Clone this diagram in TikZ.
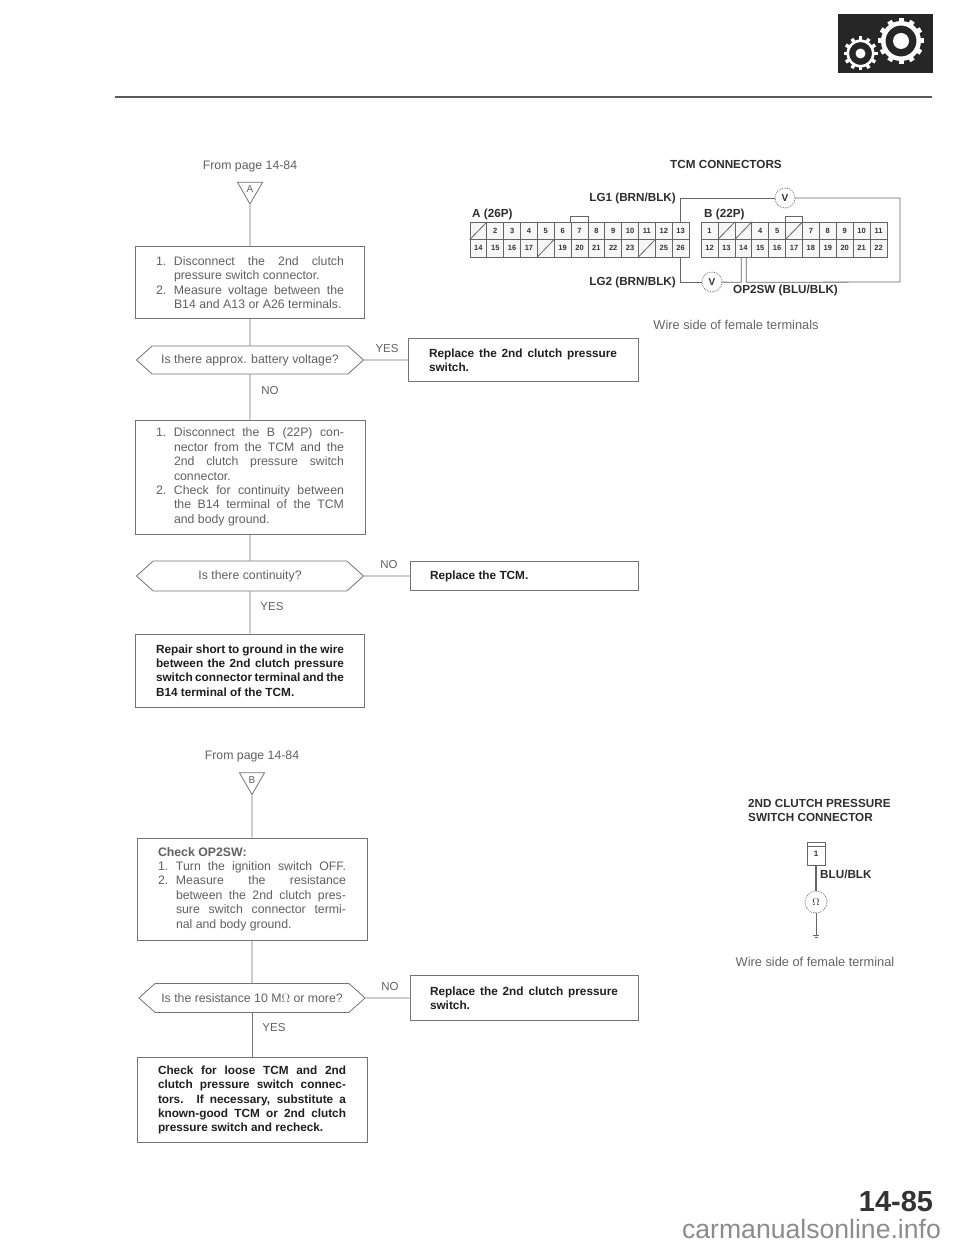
\documentclass[tikz,border=0pt]{standalone}
\usepackage{fontspec}
\setmainfont{Liberation Sans}
\usetikzlibrary{positioning,calc,shapes.geometric,shapes.symbols}
\newcommand{\numline}[2]{\makebox[18pt][l]{#1}\makebox[170pt][s]{#2}}
\newcommand{\fullline}[1]{\makebox[188pt][l]{\hspace*{18pt}#1}}
\newcommand{\hangline}[1]{\hspace*{18pt}\makebox[170pt][s]{#1}}
\newcommand{\boldline}[1]{\makebox[188pt][s]{#1}}
\tikzset{
  flowline/.style={draw=black!55, line width=0.8pt},
  stepbox/.style={draw=black!55, line width=1pt, fill=white, inner sep=0pt, text=black!62, align=left,
    font=\fontsize{12.3}{14.4}\selectfont},
  fixbox/.style={stepbox, text=black!88, font=\fontsize{11.8}{14.4}\selectfont\bfseries},
  askbox/.style={shape=signal, signal to=east and west, signal pointer angle=84, draw=black!55, line width=0.8pt,
    fill=white, inner sep=0pt, text=black!62, font=\fontsize{12.3}{14}\selectfont},
  frompage/.style={text=black!62, font=\fontsize{12.3}{14}\selectfont},
  tagtri/.style={regular polygon, regular polygon sides=3, shape border rotate=180, draw=black!55, line width=0.8pt,
    inner sep=0pt, minimum size=29pt, text=black!62, font=\fontsize{10}{10}\selectfont},
  branchtag/.style={text=black!62, font=\fontsize{11.5}{13}\selectfont},
  pincell/.style={draw=black!60, line width=0.7pt, fill=black!3, minimum width=16.9pt, minimum height=17.5pt, inner sep=0pt,
    text=black!80, font=\fontsize{7.5}{8}\selectfont\bfseries},
  wirelabel/.style={inner sep=0pt, text=black!82, font=\fontsize{11.7}{14.5}\selectfont\bfseries},
  wireline/.style={draw=black!60, line width=0.8pt},
  meter/.style={circle, draw=black!55, densely dotted, line width=0.8pt, fill=white, minimum size=20pt, inner sep=0pt,
    text=black!80, font=\fontsize{10}{11}\selectfont\bfseries},
  plainnote/.style={text=black!60, font=\fontsize{12.8}{14}\selectfont},
}
\begin{document}
\begin{tikzpicture}[x=1pt,y=-1pt]
  \useasboundingbox (0,0) rectangle (960,1246);
  \fill[white] (0,0) rectangle (960,1246);

  % header
  \draw[black!65, line width=1.8pt] (115,97) -- (932,97);
  \fill[black!85] (838,14) rectangle (933,73);
  \foreach \cx/\cy/\ro/\ri/\rd/\tw in {901/41/20/15.5/8/5, 860.5/53.5/14/11.5/5/3.5} {
    \fill[white, even odd rule] (\cx,\cy) circle (\ro) (\cx,\cy) circle (\ri);
    \fill[white] (\cx,\cy) circle (\rd);
    \foreach \a in {1,...,12}
      \fill[white, rotate around={\a*30:(\cx,\cy)}] (\cx-\tw/2,\cy-\ro-3) rectangle (\cx+\tw/2,\cy-\ro+1);
  }

  % first flow
  \node[frompage] (fromA) at (250,166) {From page 14-84};
  \node[tagtri] (triA) at (250,189.5) {A};
  \node[stepbox, minimum width=229pt, minimum height=71pt] (box1) at (250,282.5) {%
    \numline{1.}{Disconnect the 2nd clutch}\\
    \fullline{pressure switch connector.}\\
    \numline{2.}{Measure voltage between the}\\
    \fullline{B14 and A13 or A26 terminals.}};
  \node[askbox, minimum width=227pt, minimum height=28pt] (ask1) at (250,360) {Is there approx. battery voltage?};
  \node[fixbox, minimum width=230pt, minimum height=43pt] (fix1) at (523,360) {%
    \boldline{Replace the 2nd clutch pressure}\\
    \makebox[188pt][l]{switch.}};
  \node[stepbox, minimum width=230pt, minimum height=114pt] (box2) at (250,477) {%
    \numline{1.}{Disconnect the B (22P) con-}\\
    \hangline{nector from the TCM and the}\\
    \hangline{2nd clutch pressure switch}\\
    \fullline{connector.}\\
    \numline{2.}{Check for continuity between}\\
    \hangline{the B14 terminal of the TCM}\\
    \fullline{and body ground.}};
  \node[askbox, minimum width=227pt, minimum height=30pt] (ask2) at (250,576) {Is there continuity?};
  \node[fixbox, minimum width=228pt, minimum height=29pt] (fix2) at (524,576) {%
    \makebox[188pt][l]{Replace the TCM.}};
  \node[fixbox, minimum width=229pt, minimum height=73pt] (box3) at (250,670.5) {%
    \boldline{Repair short to ground in the wire}\\
    \boldline{between the 2nd clutch pressure}\\
    \boldline{switch connector terminal and the}\\
    \makebox[188pt][l]{B14 terminal of the TCM.}};
  \draw[flowline] (triA) -- (box1);
  \draw[flowline] (box1) -- (ask1);
  \draw[flowline] (ask1) -- (box2);
  \draw[flowline] (box2) -- (ask2);
  \draw[flowline] (ask2) -- (box3);
  \draw[flowline] (ask1) -- (fix1);
  \draw[flowline] (ask2) -- (fix2);
  \node[branchtag] (yes1) at (387,349) {YES};
  \node[branchtag] (no1) at (270,391) {NO};
  \node[branchtag] (no2) at (389,565) {NO};
  \node[branchtag] (yes2) at (272,607) {YES};

  % second flow
  \node[frompage] (fromB) at (252,756) {From page 14-84};
  \node[tagtri] (triB) at (252,780) {B};
  \node[stepbox, minimum width=230pt, minimum height=102pt] (box4) at (252,889) {%
    \makebox[188pt][l]{\bfseries Check OP2SW:}\\
    \numline{1.}{Turn the ignition switch OFF.}\\
    \numline{2.}{Measure the resistance}\\
    \hangline{between the 2nd clutch pres-}\\
    \hangline{sure switch connector termi-}\\
    \fullline{nal and body ground.}};
  \node[askbox, minimum width=226pt, minimum height=29pt] (ask3) at (252,998) {Is the resistance 10 M$\Omega$ or more?};
  \node[fixbox, minimum width=228pt, minimum height=45pt] (fix3) at (524,998) {%
    \boldline{Replace the 2nd clutch pressure}\\
    \makebox[188pt][l]{switch.}};
  \node[fixbox, minimum width=230pt, minimum height=85pt] (box5) at (252,1100) {%
    \boldline{Check for loose TCM and 2nd}\\
    \boldline{clutch pressure switch connec-}\\
    \boldline{tors. If necessary, substitute a}\\
    \boldline{known-good TCM or 2nd clutch}\\
    \makebox[188pt][l]{pressure switch and recheck.}};
  \draw[flowline] (triB) -- (box4);
  \draw[flowline] (box4) -- (ask3);
  \draw[flowline] (ask3) -- (box5);
  \draw[flowline] (ask3) -- (fix3);
  \node[branchtag] (no3) at (390,987) {NO};
  \node[branchtag] (yes3) at (274,1028) {YES};

  % TCM connectors
  \node[wirelabel] (tcmtitle) at (726,164) {TCM CONNECTORS};
  \node[wirelabel, anchor=west] (labA) at (472,214) {A (26P)};
  \node[wirelabel, anchor=west] (labB) at (704,214) {B (22P)};
  \foreach \t [count=\i from 1] in {{},2,3,4,5,6,7,8,9,10,11,12,13,14,15,16,17,{},19,20,21,22,23,{},25,26} {
    \pgfmathtruncatemacro\c{mod(\i-1,13)}
    \pgfmathtruncatemacro\r{div(\i-1,13)}
    \node[pincell, minimum width=16.9pt] (a\i) at (478.4+16.85*\c,230.7+17.5*\r) {\t};
  }
  \foreach \t [count=\i from 1] in {1,{},{},4,5,{},7,8,9,10,11,12,13,14,15,16,17,18,19,20,21,22} {
    \pgfmathtruncatemacro\c{mod(\i-1,11)}
    \pgfmathtruncatemacro\r{div(\i-1,11)}
    \node[pincell] (b\i) at (709.5+16.9*\c,230.7+17.5*\r) {\t};
  }
  \foreach \p in {a1,a18,a24,b2,b3,b6}
    \draw[wireline] (\p.south west) -- (\p.north east);
  \draw[wireline] (a7.north west) -- ++(0,-5) -| (a7.north east);
  \draw[wireline] (b6.north west) -- ++(0,-5) -| (b6.north east);

  \node[wirelabel, anchor=east] (lg1) at (676,198) {LG1 (BRN/BLK)};
  \node[wirelabel, anchor=east] (lg2) at (676,282) {LG2 (BRN/BLK)};
  \node[wirelabel, anchor=west] (op2) at (733,290) {OP2SW (BLU/BLK)};
  \node[meter] (vtop) at (785,198) {V};
  \node[meter] (vlow) at (712,282) {V};
  \coordinate (topcor) at (900,198);
  \coordinate (lowcor) at (900,282);
  \draw[wireline] (a13.north) |- (vtop);
  \draw[wireline] (vtop) -- (topcor) -- (lowcor) -- ($(b14.south)+(3,282-257)$) -- ($(b14.south)+(3,0)$);
  \draw[wireline] (a26.south) |- (vlow);
  \draw[wireline] (vlow) -- ($(b14.south)+(-2,282-257)$) -- ($(b14.south)+(-2,0)$);
  \node[plainnote] (tcmnote) at (736,325) {Wire side of female terminals};

  % switch connector
  \node[wirelabel, anchor=west, align=left] (swtitle) at (748,810.5) {2ND CLUTCH PRESSURE\\SWITCH CONNECTOR};
  \node[draw=black!60, line width=0.8pt, minimum width=18pt, minimum height=23pt, inner sep=0pt,
    text=black!80, font=\fontsize{8}{9}\selectfont\bfseries] (swpin) at (816,853.5) {\raisebox{-3pt}{1}};
  \draw[wireline] (swpin.north west) ++(0,5) -- ++(18,0);
  \node[meter, minimum size=22pt] (ohm) at (816,902) {$\Omega$};
  \node[wirelabel, anchor=west] (swwire) at (820,874) {BLU/BLK};
  \coordinate (gnd) at (816,935);
  \draw[wireline, line width=1.1pt] (swpin) -- (ohm);
  \draw[wireline] (ohm) -- (gnd);
  \draw[wireline] ($(gnd)+(-3,0)$) -- ($(gnd)+(3,0)$) ($(gnd)+(-1.5,2)$) -- ($(gnd)+(1.5,2)$);
  \node[plainnote] (swnote) at (815,962) {Wire side of female terminal};

  \node[font=\fontsize{29}{32}\selectfont\bfseries, text=black!80] (pageno) at (896,1202) {14-85};
  \node[font=\fontsize{26.6}{30}\selectfont, text=black!45] (siteword) at (811.5,1229) {carmanualsonline.info};
\end{tikzpicture}
\end{document}
